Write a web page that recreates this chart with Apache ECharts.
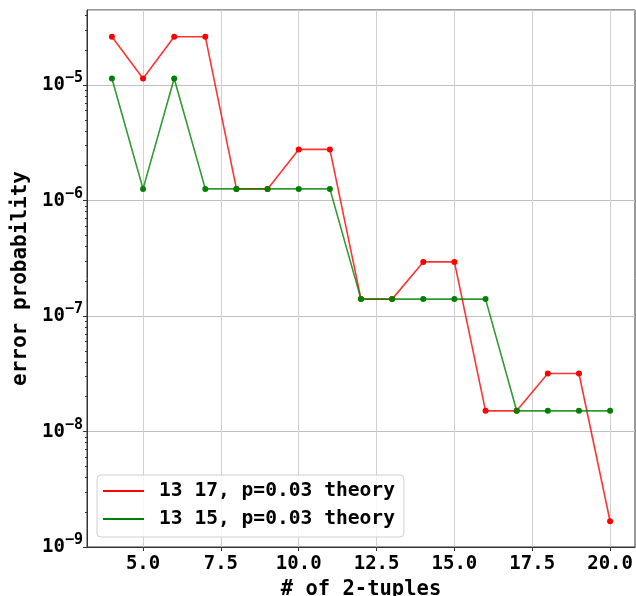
<!DOCTYPE html>
<html>
<head>
<meta charset="utf-8">
<script src="https://cdn.jsdelivr.net/npm/echarts@6/dist/echarts.min.js"></script>
<style>html,body{margin:0;padding:0;background:#fff;}#c{width:636px;height:596px;}</style>
</head>
<body>
<div id="c"></div>
<script>
const xValues = [4, 5, 6, 7, 8, 9, 10, 11, 12, 13, 14, 15, 16, 17, 18, 19, 20];
const red1317 = [2.62e-5, 1.14e-5, 2.62e-5, 2.62e-5, 1.26e-6, 1.26e-6, 2.77e-6, 2.77e-6, 1.40e-7, 1.40e-7, 2.94e-7, 2.94e-7, 1.51e-8, 1.51e-8, 3.18e-8, 3.18e-8, 1.67e-9];
const green1315 = [1.14e-5, 1.26e-6, 1.14e-5, 1.26e-6, 1.26e-6, 1.26e-6, 1.26e-6, 1.26e-6, 1.40e-7, 1.40e-7, 1.40e-7, 1.40e-7, 1.40e-7, 1.51e-8, 1.51e-8, 1.51e-8, 1.51e-8];
const xTicks = [5, 7.5, 10, 12.5, 15, 17.5, 20];
const yMin = 1e-9, yMax = 4.46e-5;
const seriesNames = ['13 17, p=0.03 theory', '13 15, p=0.03 theory'];
const minorTickLogs = [];
for (let e = -9; e <= -5; e++) for (let m = 2; m <= 9; m++) {
  const v = Math.log10(m) + e;
  if (v <= Math.log10(yMax)) minorTickLogs.push(v);
}

const FONT = 'DejaVu Sans Mono';
const chart = echarts.init(document.getElementById('c'), null, {renderer: 'canvas'});
const pair = (ys) => xValues.map((x, i) => [x, ys[i]]);

chart.setOption({
  animation: false,
  backgroundColor: '#fff',
  grid: {left: 87, top: 10, width: 548, height: 537, containLabel: false, outerBoundsMode: 'none', show: true, borderColor: '#333', borderWidth: 1, backgroundColor: 'transparent'},
  legend: {
    left: 97, top: 475, orient: 'vertical',
    icon: 'rect', itemWidth: 41, itemHeight: 2, itemGap: 8,
    padding: [6, 9, 8, 6],
    backgroundColor: 'rgba(255,255,255,0.8)', borderColor: '#d0d0d0', borderWidth: 1, borderRadius: 4,
    textStyle: {fontFamily: FONT, fontWeight: 'bold', fontSize: 19.6, color: '#000', lineHeight: 20, padding: [0, 0, 0, 10]},
    data: seriesNames
  },
  xAxis: {
    type: 'value', min: 3.2, max: 20.8,
    name: '# of 2-tuples', nameLocation: 'middle', nameGap: 29,
    nameTextStyle: {fontFamily: FONT, fontWeight: 'bold', fontSize: 20.5, color: '#000'},
    axisLine: {show: true, lineStyle: {color: '#333', width: 1}},
    axisTick: {show: true, length: 4, inside: false, customValues: xTicks, lineStyle: {color: '#333'}},
    axisLabel: {customValues: xTicks, margin: 8, fontFamily: FONT, fontWeight: 'bold', fontSize: 19, color: '#000', formatter: v => Number(v).toFixed(1)},
    splitLine: {show: true, lineStyle: {color: '#d0d0d0', width: 1}}
  },
  yAxis: [{
    type: 'log', logBase: 10, min: yMin, max: yMax,
    name: 'error probability', nameLocation: 'middle', nameGap: 55,
    nameTextStyle: {fontFamily: FONT, fontWeight: 'bold', fontSize: 21, color: '#000'},
    axisLine: {show: true, lineStyle: {color: '#333', width: 1}},
    axisTick: {show: true, length: 4, lineStyle: {color: '#333'}},
    axisLabel: {
      margin: 4, showMaxLabel: false,
      formatter: v => '{b|10}{s|\u2212' + (-Math.round(Math.log10(v))) + '}',
      rich: {
        b: {fontFamily: FONT, fontWeight: 'bold', fontSize: 19, color: '#000', lineHeight: 20, verticalAlign: 'bottom'},
        s: {fontFamily: FONT, fontWeight: 'bold', fontSize: 15, color: '#000', lineHeight: 15, padding: [0, 0, 9, 0], verticalAlign: 'bottom'}
      }
    },
    splitLine: {show: true, lineStyle: {color: '#c0c0c0', width: 1}}
  }, {
    type: 'value', min: -9, max: Math.log10(yMax), position: 'left',
    axisLine: {show: false},
    axisTick: {show: true, length: 2, customValues: minorTickLogs, lineStyle: {color: '#333'}},
    axisLabel: {show: false},
    splitLine: {show: false}
  }],
  series: [{
    name: seriesNames[0], type: 'line', yAxisIndex: 0, data: pair(red1317),
    symbol: 'circle', symbolSize: 6, color: '#ff0000',
    itemStyle: {color: '#ff0000'},
    lineStyle: {color: '#ff0000', width: 1.6, opacity: 0.8}
  }, {
    name: seriesNames[1], type: 'line', yAxisIndex: 0, data: pair(green1315),
    symbol: 'circle', symbolSize: 6, color: '#008000',
    itemStyle: {color: '#008000'},
    lineStyle: {color: '#008000', width: 1.6, opacity: 0.8}
  }]
});
</script>
</body>
</html>
